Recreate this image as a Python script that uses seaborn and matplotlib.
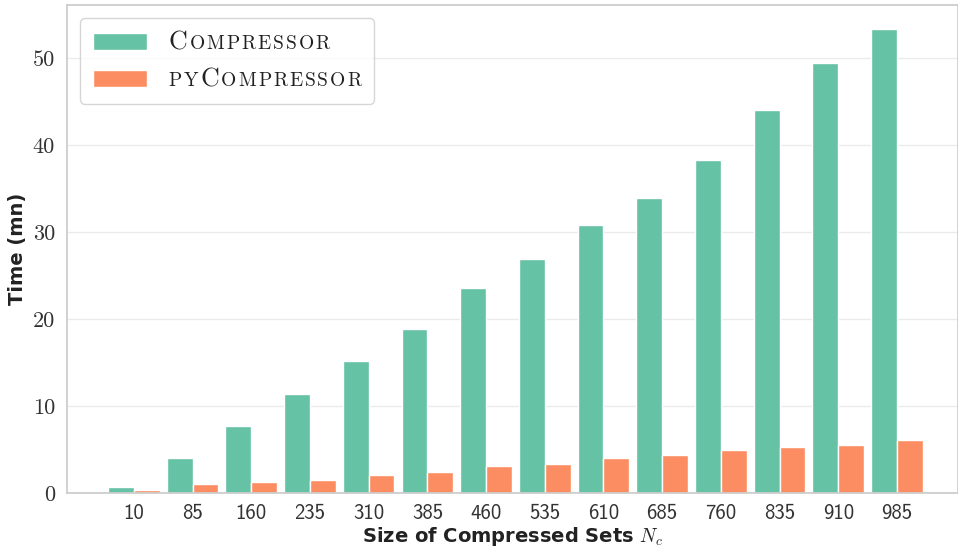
import numpy as np
import pandas as pd
import matplotlib
matplotlib.use("Agg")
import matplotlib.pyplot as plt
import seaborn as sns
from matplotlib.offsetbox import TextArea, HPacker

# values
sizes = [10, 85, 160, 235, 310, 385, 460, 535, 610, 685, 760, 835, 910, 985]
compressor = [0.7, 4.0, 7.7, 11.4, 15.15, 18.85, 23.6, 26.9, 30.8, 33.9, 38.3, 44.0, 49.4, 53.3]
pycompressor = [0.4, 1.07, 1.26, 1.45, 2.1, 2.41, 3.05, 3.28, 4.02, 4.4, 4.97, 5.24, 5.47, 6.08]
codes = ["Compressor", "pyCompressor"]

df = pd.DataFrame({
    "Nc": sizes * 2,
    "time": compressor + pycompressor,
    "code": [codes[0]] * len(sizes) + [codes[1]] * len(sizes),
})

sns.set_theme(style="whitegrid")
plt.rcParams["mathtext.fontset"] = "cm"
plt.rcParams["axes.edgecolor"] = "#cccccc"
plt.rcParams["grid.color"] = "#ebebeb"
plt.rcParams["grid.linewidth"] = 1.0

fig = plt.figure(figsize=(9.58, 5.55), dpi=100)
ax = fig.add_axes([0.0699, 0.1117, 0.9301, 0.8793])

sns.barplot(data=df, x="Nc", y="time", hue="code", palette="Set2",
            width=0.88, gap=0, saturation=1, edgecolor="white", linewidth=1, ax=ax)

ax.set_xlim(-1.14, 14.04)
ax.set_ylim(0, 56.1)
ax.set_yticks([0, 10, 20, 30, 40, 50])
ax.tick_params(axis="y", length=0, labelsize=16, pad=8.6, labelfontfamily="cmr10", labelcolor="#333333")
ax.tick_params(axis="x", length=0, labelsize=15, pad=8, labelfontfamily="cmss10", labelcolor="#333333")

ax.set_xlabel(r"Size of Compressed Sets $N_c$", fontsize=14, fontweight="bold",
              family="DejaVu Sans", labelpad=1, color="#222222")
ax.set_ylabel("Time (mn)", fontsize=14, fontweight="bold", family="DejaVu Sans",
              labelpad=4, color="#222222")

handles, labels = ax.get_legend_handles_labels()
leg = ax.legend(handles, labels, loc="upper left", fontsize=16, frameon=True,
                handlelength=2.43, handleheight=0.8, handletextpad=1.0,
                borderpad=0.55, labelspacing=0.6, borderaxespad=0.6)

# fake small caps for the legend labels
big, small = 18.6, 14.0
runs = {
    "Compressor": [("C", big)] + [(c, small) for c in "OMPRESSOR"],
    "pyCompressor": [(c, small) for c in "PY"] + [("C", big)] + [(c, small) for c in "OMPRESSOR"],
}
for col in leg._legend_handle_box.get_children():
    for item in col.get_children():
        kids = item.get_children()
        name = kids[1]._text.get_text()
        parts = [TextArea(t, textprops=dict(fontsize=s, fontfamily="cmr10", color="#222222"))
                 for t, s in runs[name]]
        box = HPacker(children=parts, pad=0, sep=1.4, align="baseline")
        box.set_figure(fig)
        kids[1] = box

fig.savefig("out.png", dpi=100)
